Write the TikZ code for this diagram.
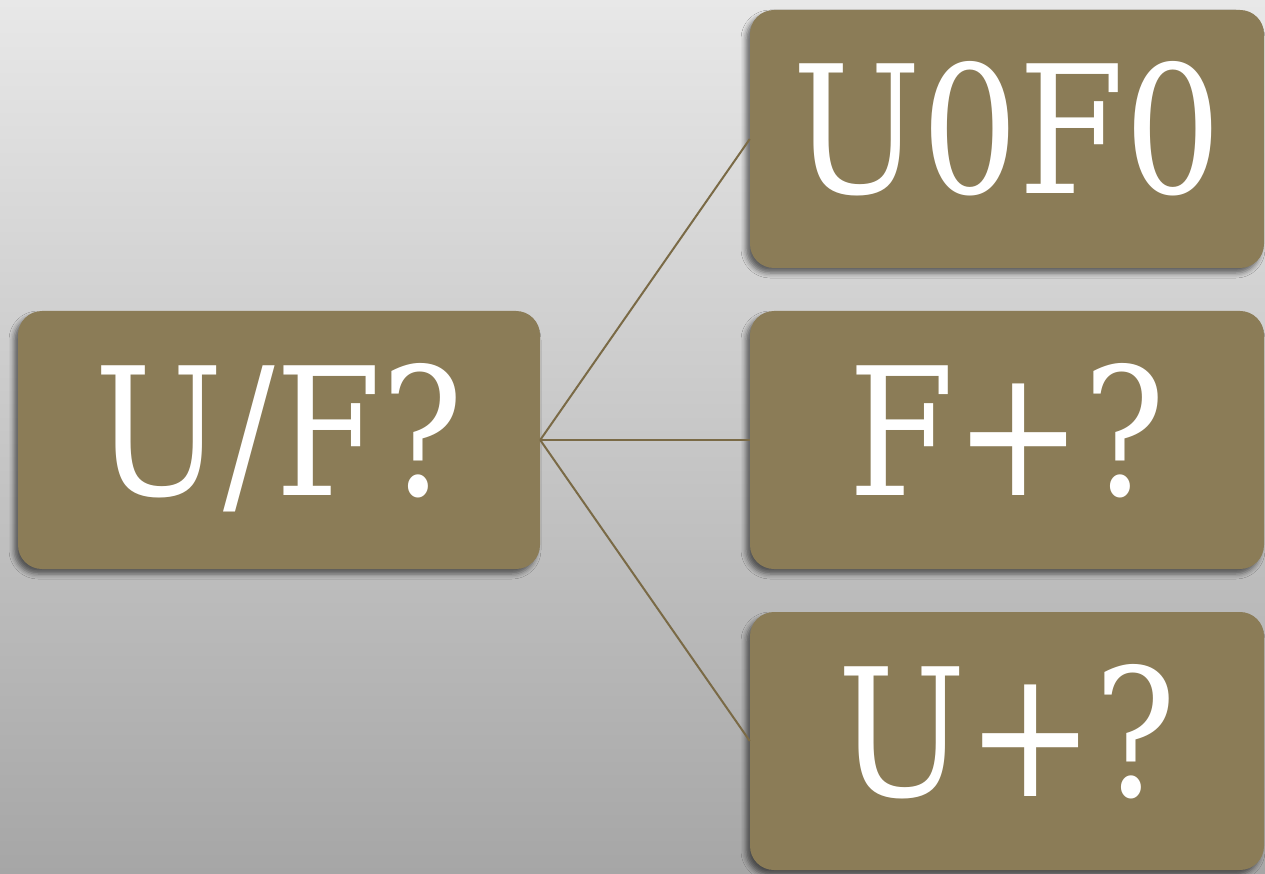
\documentclass[tikz,border=0pt]{standalone}
\usepackage{fontspec}
\setmainfont[FakeStretch=0.86]{DejaVu Serif}
\usetikzlibrary{shadows.blur}
\definecolor{boxfill}{RGB}{139,124,87}
\definecolor{linkcol}{RGB}{122,106,70}
\definecolor{bgtop}{RGB}{232,232,232}
\definecolor{bgbot}{RGB}{166,166,166}
\tikzset{
  card/.style={rounded corners=24pt, fill=boxfill, draw=none,
    minimum width=#1, minimum height=258pt, inner sep=0pt,
    text=white, font=\fontsize{178}{178}\selectfont,
    text height=130pt, text depth=20pt,
    blur shadow={shadow xshift=-4pt, shadow yshift=-5pt, shadow blur radius=5pt, shadow opacity=55}},
  link/.style={draw=linkcol, line width=2pt}
}
\begin{document}
\begin{tikzpicture}[x=1pt,y=-1pt]
\shade[top color=bgtop, bottom color=bgbot] (0,0) rectangle (1265,874);
\useasboundingbox (0,0) rectangle (1265,874);
\node[card=522pt] (uf) at (279,440) {U/F?};
\node[card=514pt] (u0f0) at (1007,139) {U0F0};
\node[card=514pt] (fp) at (1007,440) {F+?};
\node[card=514pt] (up) at (1007,741) {U+?};
\draw[link] (uf.east) -- (u0f0.west);
\draw[link] (uf.east) -- (fp.west);
\draw[link] (uf.east) -- (up.west);
\end{tikzpicture}
\end{document}
